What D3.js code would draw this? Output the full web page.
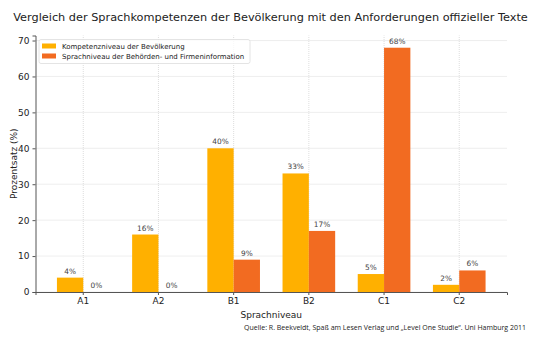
<!DOCTYPE html>
<html>
<head>
<meta charset="utf-8">
<script src="https://cdn.jsdelivr.net/npm/d3@7"></script>
<style>
  body { margin: 0; background: #fff; }
  svg { font-family: "DejaVu Sans", sans-serif; }
</style>
</head>
<body>
<svg id="chart"></svg>
<script>
const levels = ['A1', 'A2', 'B1', 'B2', 'C1', 'C2'];
const population = [4, 16, 40, 33, 5, 2];
const officialTexts = [0, 0, 9, 17, 68, 6];
const seriesNames = ['Kompetenzniveau der Bevölkerung', 'Sprachniveau der Behörden- und Firmeninformation'];
const yTicks = [0, 10, 20, 30, 40, 50, 60, 70];

const width = 540;
const height = 340;
const margin = { top: 35.5, right: 33, bottom: 48, left: 35.5 };
const colors = ['#FFB000', '#F26B21'];

const svg = d3.select('#chart').attr('width', width).attr('height', height);

const x = d3
	.scaleBand()
	.domain(levels)
	.range([margin.left, width - margin.right])
	.paddingInner(0.3)
	.paddingOuter(0.285);

const series = d3.scaleBand().domain([0, 1]).range([0, x.bandwidth()]);

const y = d3
	.scaleLinear()
	.domain([0, 71.4])
	.range([height - margin.bottom, margin.top]);

// grid lines
svg
	.append('g')
	.selectAll('line')
	.data(yTicks)
	.enter()
	.append('line')
	.attr('x1', margin.left)
	.attr('x2', width - margin.right)
	.attr('y1', (d) => y(d))
	.attr('y2', (d) => y(d))
	.attr('stroke', '#cfcfcf')
	.attr('stroke-width', 0.7)
	.attr('stroke-dasharray', '1,1');

svg
	.append('g')
	.selectAll('line')
	.data(levels)
	.enter()
	.append('line')
	.attr('x1', (d) => x(d) + x.bandwidth() / 2)
	.attr('x2', (d) => x(d) + x.bandwidth() / 2)
	.attr('y1', y(0))
	.attr('y2', margin.top)
	.attr('stroke', '#cfcfcf')
	.attr('stroke-width', 0.7)
	.attr('stroke-dasharray', '1,1');

// bars
const rows = levels.map((lvl, i) => ({ lvl, values: [population[i], officialTexts[i]] }));

const group = svg
	.append('g')
	.selectAll('g')
	.data(rows)
	.enter()
	.append('g')
	.attr('transform', (d) => `translate(${x(d.lvl)},0)`);

group
	.selectAll('rect')
	.data((d) => d.values.map((v, k) => ({ v, k })))
	.enter()
	.append('rect')
	.attr('x', (d) => series(d.k))
	.attr('y', (d) => y(d.v))
	.attr('width', series.bandwidth())
	.attr('height', (d) => y(0) - y(d.v))
	.attr('fill', (d) => colors[d.k]);

group
	.selectAll('text')
	.data((d) => d.values.map((v, k) => ({ v, k })))
	.enter()
	.append('text')
	.attr('x', (d) => series(d.k) + series.bandwidth() / 2)
	.attr('y', (d) => y(d.v) - 4)
	.attr('text-anchor', 'middle')
	.attr('font-size', '7.4px')
	.attr('fill', '#444')
	.text((d) => d.v + '%');

// axes
const xAxis = svg
	.append('g')
	.attr('transform', `translate(0,${y(0)})`)
	.call(d3.axisBottom(x).tickSize(3));

const yAxis = svg
	.append('g')
	.attr('transform', `translate(${margin.left},0)`)
	.call(d3.axisLeft(y).tickValues(yTicks).tickSize(3));

[xAxis, yAxis].forEach((ax) => {
	ax.select('.domain').attr('stroke', '#555').attr('stroke-width', 1);
	ax.selectAll('.tick line').attr('stroke', '#555');
	ax.selectAll('.tick text').attr('font-size', '9px').attr('fill', '#222').attr('font-family', '"DejaVu Sans", sans-serif');
});

// titles
svg
	.append('text')
	.attr('x', 270.5)
	.attr('y', 21)
	.attr('text-anchor', 'middle')
	.attr('font-size', '11.3px')
	.attr('fill', '#222')
	.text('Vergleich der Sprachkompetenzen der Bevölkerung mit den Anforderungen offizieller Texte');

svg
	.append('text')
	.attr('x', (margin.left + width - margin.right) / 2)
	.attr('y', 318)
	.attr('text-anchor', 'middle')
	.attr('font-size', '9px')
	.attr('fill', '#222')
	.text('Sprachniveau');

svg
	.append('text')
	.attr('transform', `translate(17,${(y(0) + margin.top) / 2}) rotate(-90)`)
	.attr('text-anchor', 'middle')
	.attr('font-size', '9px')
	.attr('fill', '#222')
	.text('Prozentsatz (%)');

svg
	.append('text')
	.attr('x', 526)
	.attr('y', 330)
	.attr('text-anchor', 'end')
	.attr('font-size', '7px')
	.attr('font-family', '"Open Sans", sans-serif')
	.attr('fill', '#222')
	.text('Quelle: R. Beekveldt, Spaß am Lesen Verlag und „Level One Studie“. Uni Hamburg 2011');

// legend
const legend = svg.append('g').attr('transform', 'translate(39,39.5)');

legend
	.append('rect')
	.attr('width', 211)
	.attr('height', 24)
	.attr('rx', 2)
	.attr('fill', '#fff')
	.attr('fill-opacity', 0.8)
	.attr('stroke', '#ddd')
	.attr('stroke-width', 0.8);

seriesNames.forEach((name, i) => {
	legend
		.append('rect')
		.attr('x', 3)
		.attr('y', 4 + i * 10)
		.attr('width', 14)
		.attr('height', 5)
		.attr('fill', colors[i]);
	legend
		.append('text')
		.attr('x', 23)
		.attr('y', 9 + i * 10)
		.attr('font-size', '7px')
		.attr('fill', '#222')
		.text(name);
});
</script>
</body>
</html>
